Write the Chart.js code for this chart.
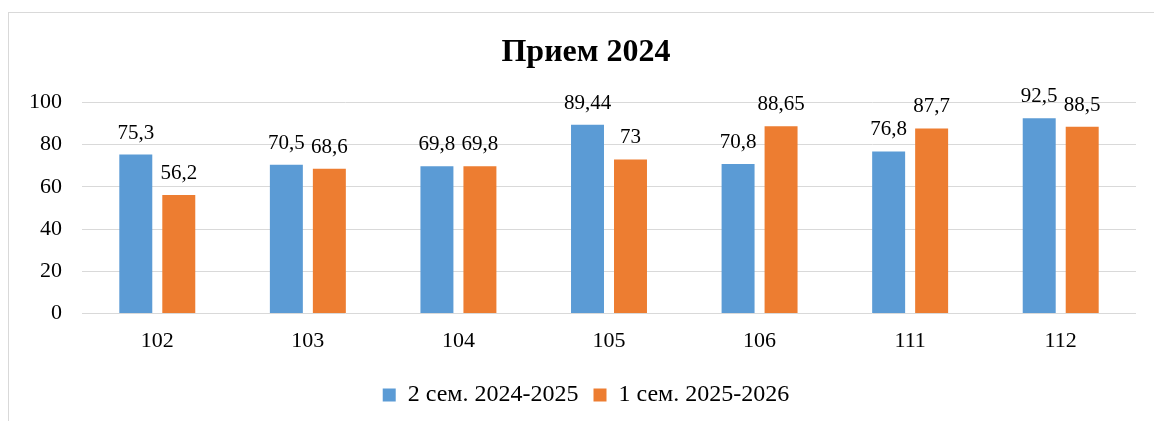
<!DOCTYPE html>
<html>
<head>
<meta charset="utf-8">
<script src="https://cdn.jsdelivr.net/npm/chart.js@4/dist/chart.umd.min.js"></script>
<style>
  html, body { margin: 0; padding: 0; background: #fff; overflow: hidden; }
  #frame { position: absolute; left: 8px; top: 12px; width: 1200px; height: 500px; border: 1px solid #d9d9d9; }
  #wrap { position: absolute; left: 0; top: 0; width: 1154px; height: 421px; }
</style>
</head>
<body>
<div id="frame"></div>
<div id="wrap"><canvas id="chart"></canvas></div>
<script>
const groups = ["102", "103", "104", "105", "106", "111", "112"];
const sem2_2024 = [75.3, 70.5, 69.8, 89.44, 70.8, 76.8, 92.5];
const sem1_2025 = [56.2, 68.6, 69.8, 73, 88.65, 87.7, 88.5];
const seriesNames = ["2 сем. 2024-2025", "1 сем. 2025-2026"];

const serif = "'Liberation Serif', 'Times New Roman', serif";

const valueLabels = {
  id: "valueLabels",
  afterDatasetsDraw(chart) {
    const ctx = chart.ctx;
    ctx.save();
    ctx.font = "21px " + serif;
    ctx.fillStyle = "#000";
    ctx.textAlign = "center";
    ctx.textBaseline = "alphabetic";
    chart.data.datasets.forEach((ds, i) => {
      chart.getDatasetMeta(i).data.forEach((bar, j) => {
        const txt = String(ds.data[j]).replace(".", ",");
        ctx.fillText(txt, bar.x, bar.y - 16);
      });
    });
    ctx.restore();
  }
};

// title and legend are centred on the whole frame, not on the canvas
const centreOnFrame = {
  id: "centreOnFrame",
  afterLayout(chart) {
    [chart.titleBlock, chart.legend].forEach((box) => {
      if (!box) return;
      box.left += 18;
      box.right += 18;
    });
  }
};

new Chart(document.getElementById("chart"), {
  type: "bar",
  data: {
    labels: groups,
    datasets: [
      { label: seriesNames[0], data: sem2_2024, backgroundColor: "#5b9bd5" },
      { label: seriesNames[1], data: sem1_2025, backgroundColor: "#ed7d31" }
    ]
  },
  options: {
    responsive: true,
    maintainAspectRatio: false,
    animation: false,
    categoryPercentage: 0.571,
    barPercentage: 0.767,
    layout: { padding: { left: 0, right: 18, top: 0, bottom: 4 } },
    plugins: {
      title: {
        display: true,
        text: "Прием 2024",
        color: "#000",
        font: { family: serif, size: 32, weight: "bold" },
        padding: { top: 34, bottom: 30 }
      },
      legend: {
        position: "bottom",
        labels: {
          color: "#000",
          font: { family: serif, size: 24 },
          boxWidth: 13,
          boxHeight: 13,
          padding: 15
        }
      },
      tooltip: { enabled: false }
    },
    scales: {
      x: {
        grid: { display: false, drawTicks: false },
        border: { display: false },
        ticks: { color: "#000", font: { family: serif, size: 22 }, padding: 14 }
      },
      y: {
        min: 0,
        max: 100,
        afterFit(scale) { scale.width = 82; },
        grid: { color: "#d9d9d9", lineWidth: 1, drawTicks: false },
        border: { display: false },
        ticks: { stepSize: 20, color: "#000", font: { family: serif, size: 22 }, padding: 20 }
      }
    }
  },
  plugins: [valueLabels, centreOnFrame]
});
</script>
</body>
</html>
